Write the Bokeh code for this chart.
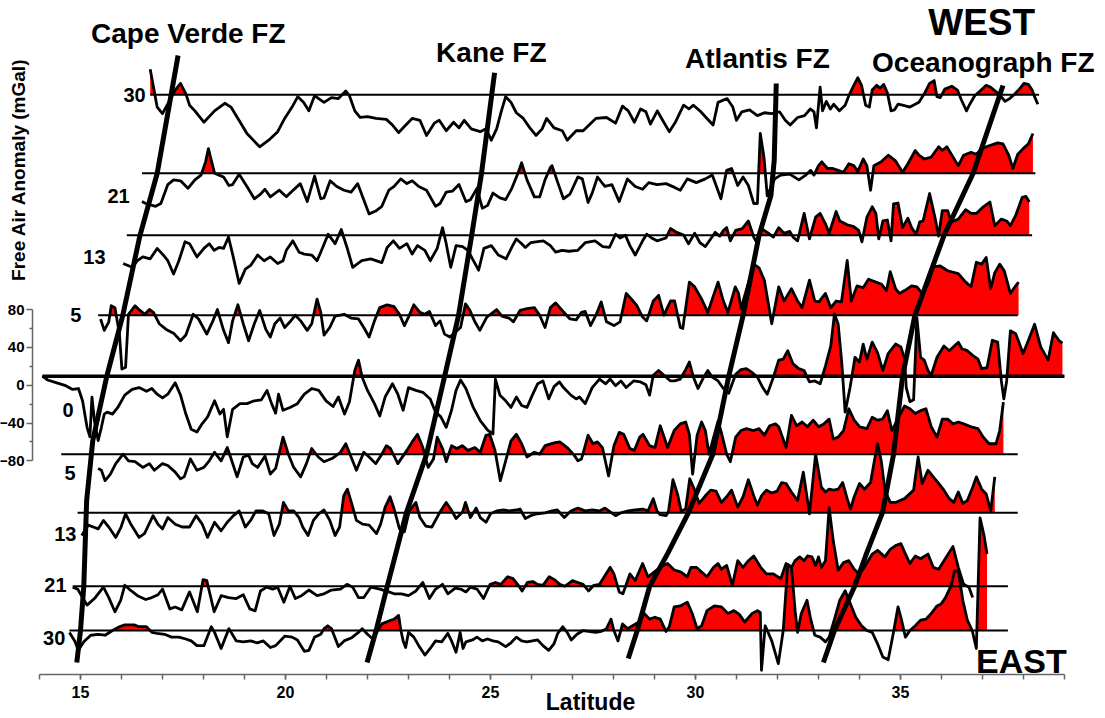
import numpy as np
from bokeh.plotting import figure
from bokeh.models import Label, FixedTicker, Range1d, LinearAxis
from bokeh.embed import file_html
from bokeh.resources import INLINE

# ---------------- DATA ----------------
# Profile labels (distance off-axis, km) top (WEST) to bottom (EAST)
profile_labels = ["30", "21", "13", "5", "0", "5", "13", "21", "30"]
# baseline offset of each profile on the stacked mGal scale
baseline_offset = [307.0, 224.1, 158.6, 74.0, 9.5, -72.9, -134.9, -212.5, -259.3]
baseline_start = [16.70, 16.50, 16.13, 15.43, 14.07, 14.53, 14.93, 14.81, 14.73]
baseline_end = [38.38, 38.29, 38.21, 37.86, 39.00, 37.86, 37.86, 37.62, 37.62]

# free-air anomaly (lat, mGal) for every profile
west30 = [(16.70,27),(16.87,-13),(17.00,-20),(17.31,5),(17.44,12),(17.57,1),(17.66,-11),(17.79,-17),(18.01,-29),(18.27,-17),(18.52,-9),(18.67,-13),(18.84,-25),(19.06,-41),(19.37,-55),(19.59,-48),(19.81,-39),(19.98,-25),(20.16,-13),(20.30,-2),(20.44,-8),(20.57,-17),(20.71,-1),(20.81,-4),(20.94,-8),(21.12,-3),(21.29,-4),(21.47,4),(21.56,-1),(21.69,-17),(21.82,-24),(22.00,-23),(22.21,-25),(22.46,-26),(22.61,-32),(22.76,-40),(22.91,-33),(23.09,-25),(23.28,-27),(23.44,-43),(23.63,-30),(23.75,-27),(23.92,-38),(24.10,-29),(24.23,-35),(24.36,-27),(24.53,-36),(24.75,-39),(24.89,-36),(25.02,-48),(25.15,-36),(25.26,-18),(25.37,-2),(25.50,-8),(25.63,-19),(25.80,-25),(25.96,-35),(26.11,-43),(26.26,-36),(26.37,-25),(26.55,-35),(26.75,-38),(26.87,-48),(27.09,-38),(27.26,-38),(27.57,-25),(27.83,-24),(28.05,-30),(28.22,-12),(28.36,-17),(28.51,-29),(28.66,-15),(28.79,-18),(28.90,-31),(29.07,-17),(29.16,-24),(29.36,-39),(29.51,-29),(29.71,-11),(29.84,-15),(29.95,-11),(30.13,-18),(30.28,-25),(30.43,-32),(30.55,-8),(30.77,-4),(30.91,-13),(31.00,-27),(31.13,-18),(31.32,-16),(31.51,-22),(31.68,-19),(31.86,-20),(32.05,-18),(32.19,-27),(32.31,-32),(32.49,-24),(32.66,-22),(32.80,-15),(32.89,-18),(32.95,-35),(33.04,8),(33.10,-17),(33.19,-7),(33.29,-15),(33.37,-10),(33.51,-17),(33.65,-11),(33.74,-1),(33.86,10),(33.96,18),(34.05,10),(34.15,-11),(34.24,-13),(34.31,5),(34.42,10),(34.50,7),(34.59,11),(34.68,2),(34.77,-17),(34.85,-16),(34.94,-10),(35.05,-11),(35.23,-13),(35.45,-8),(35.58,1),(35.71,12),(35.82,15),(35.89,-2),(35.97,-3),(36.08,6),(36.25,9),(36.39,5),(36.48,-5),(36.61,-17),(36.69,-10),(36.81,-1),(36.94,4),(37.09,10),(37.20,8),(37.31,4),(37.42,0),(37.55,-7),(37.66,-4),(37.77,0),(37.90,6),(38.01,12),(38.12,11),(38.21,5),(38.27,-2),(38.35,-10)]

west21 = [(16.50,-30),(16.59,-32),(16.83,-35),(16.96,-32),(17.13,-12),(17.27,-7),(17.44,-8),(17.62,-16),(17.79,-7),(17.94,-2),(18.05,12),(18.12,26),(18.20,12),(18.27,0),(18.38,-2),(18.49,-4),(18.62,-13),(18.71,-12),(18.87,-1),(19.06,-14),(19.24,-27),(19.37,-23),(19.50,-17),(19.63,-25),(19.85,-18),(20.02,-25),(20.16,-19),(20.36,-11),(20.53,-30),(20.71,-3),(20.86,-27),(20.94,-26),(21.09,-8),(21.25,-14),(21.43,-18),(21.60,-20),(21.76,-11),(21.88,-25),(22.04,-43),(22.20,-40),(22.35,-35),(22.52,-18),(22.65,-14),(22.81,-6),(22.96,-11),(23.09,-8),(23.25,-14),(23.44,-18),(23.66,-35),(23.77,-32),(23.92,-20),(24.07,-19),(24.23,-12),(24.40,-30),(24.51,-28),(24.67,-16),(24.80,-37),(24.93,-34),(25.06,-21),(25.23,-26),(25.37,-28),(25.52,-16),(25.67,0),(25.76,11),(25.89,-7),(26.07,-25),(26.20,-25),(26.33,-7),(26.46,6),(26.50,8),(26.65,-11),(26.78,-27),(26.94,-22),(27.13,-4),(27.24,-6),(27.38,-31),(27.48,-21),(27.61,-4),(27.79,-14),(27.96,-12),(28.14,-30),(28.34,-6),(28.53,-14),(28.71,-17),(28.86,-10),(29.06,-12),(29.28,-11),(29.49,-15),(29.63,-18),(29.80,-6),(30.02,-10),(30.24,-6),(30.41,-2),(30.62,-27),(30.76,3),(30.88,5),(31.03,-13),(31.16,-4),(31.29,-13),(31.42,-32),(31.51,-32),(31.58,42),(31.67,17),(31.75,-24),(31.93,-6),(32.08,-2),(32.30,-1),(32.52,-7),(32.69,-2),(32.81,3),(32.89,-2),(33.00,8),(33.08,12),(33.22,5),(33.35,5),(33.48,3),(33.61,1),(33.74,10),(33.86,8),(33.96,2),(34.09,15),(34.18,8),(34.27,-18),(34.35,8),(34.53,12),(34.70,19),(34.88,13),(35.05,1),(35.18,10),(35.36,24),(35.45,19),(35.58,15),(35.75,17),(35.93,28),(36.02,24),(36.13,28),(36.24,20),(36.41,8),(36.54,19),(36.72,22),(36.85,20),(36.98,26),(37.16,29),(37.37,32),(37.50,31),(37.64,19),(37.74,5),(37.86,20),(37.99,26),(38.12,31),(38.23,42)]

west13 = [(16.04,-30),(16.26,-34),(16.39,-27),(16.52,-23),(16.70,-25),(16.87,-14),(17.00,-20),(17.13,-27),(17.27,-41),(17.40,-27),(17.55,-7),(17.66,-9),(17.84,-23),(18.01,-14),(18.14,-9),(18.26,-16),(18.38,-13),(18.49,-14),(18.61,-2),(18.71,-20),(18.87,-51),(19.02,-36),(19.15,-32),(19.32,-21),(19.48,-27),(19.63,-23),(19.81,-30),(19.94,-27),(20.02,-16),(20.18,-6),(20.33,-18),(20.46,-20),(20.64,-21),(20.77,-27),(20.88,-16),(21.04,1),(21.21,-9),(21.36,6),(21.50,-13),(21.64,-34),(21.86,-27),(22.08,-25),(22.35,-29),(22.48,-13),(22.63,-6),(22.78,-14),(22.96,-9),(23.09,-20),(23.22,-11),(23.40,-16),(23.53,-27),(23.70,-14),(23.83,8),(23.92,-9),(24.03,-34),(24.16,-11),(24.32,-12),(24.45,-16),(24.56,-25),(24.71,-37),(24.84,-14),(25.02,-11),(25.19,-21),(25.38,-25),(25.54,-11),(25.63,-4),(25.76,-9),(25.85,-13),(25.98,-8),(26.11,-7),(26.29,-6),(26.46,-11),(26.59,-18),(26.74,-16),(26.91,-17),(27.13,-16),(27.31,-8),(27.55,-6),(27.74,-12),(27.90,-13),(28.05,1),(28.16,-3),(28.29,0),(28.40,-11),(28.53,-21),(28.71,-6),(28.81,1),(28.93,-3),(29.06,-6),(29.28,-3),(29.39,7),(29.54,3),(29.71,0),(29.83,-9),(29.98,2),(30.11,-8),(30.24,-12),(30.37,-4),(30.48,3),(30.59,-1),(30.68,5),(30.76,8),(30.85,-6),(30.98,5),(31.14,7),(31.29,15),(31.42,-2),(31.51,-9),(31.61,7),(31.75,3),(31.90,-2),(32.03,8),(32.16,2),(32.30,4),(32.38,-2),(32.49,-6),(32.65,23),(32.78,-4),(32.93,19),(33.04,23),(33.17,12),(33.26,2),(33.43,25),(33.52,15),(33.70,11),(33.86,9),(33.98,5),(34.06,-7),(34.18,19),(34.31,30),(34.40,23),(34.47,-4),(34.57,15),(34.68,16),(34.77,-6),(34.83,33),(34.94,34),(35.05,8),(35.18,18),(35.27,8),(35.38,1),(35.47,14),(35.55,15),(35.71,44),(35.84,19),(35.93,-1),(36.02,26),(36.15,26),(36.24,14),(36.41,17),(36.59,27),(36.72,23),(36.85,23),(37.02,30),(37.18,35),(37.30,10),(37.46,17),(37.59,15),(37.68,10),(37.81,21),(37.97,40),(38.06,41),(38.14,35)]

west5 = [(15.49,-4),(15.58,-16),(15.69,-7),(15.75,10),(15.84,8),(15.95,-20),(16.01,-57),(16.10,-55),(16.17,1),(16.33,10),(16.45,5),(16.57,1),(16.68,6),(16.78,3),(16.92,-9),(17.09,-15),(17.27,-19),(17.44,-27),(17.57,-21),(17.75,1),(17.88,-4),(18.08,-20),(18.23,-6),(18.34,6),(18.49,-16),(18.61,-29),(18.71,-6),(18.84,11),(18.97,-9),(19.10,-27),(19.24,-9),(19.37,5),(19.52,-15),(19.63,-23),(19.74,-9),(19.87,-3),(19.98,-13),(20.11,-7),(20.24,0),(20.37,-6),(20.53,-16),(20.64,-9),(20.77,17),(20.86,3),(20.94,-21),(21.08,-13),(21.21,-1),(21.43,1),(21.60,-3),(21.78,-4),(21.91,-13),(22.04,-23),(22.17,-6),(22.30,8),(22.48,11),(22.65,9),(22.78,1),(22.90,-11),(23.00,-2),(23.13,11),(23.28,3),(23.40,1),(23.51,4),(23.66,-11),(23.77,-6),(23.88,-20),(24.01,-23),(24.27,-13),(24.39,12),(24.50,5),(24.62,-7),(24.74,-16),(24.91,-2),(25.15,6),(25.28,-1),(25.45,-3),(25.56,-7),(25.72,5),(25.89,7),(26.07,8),(26.20,0),(26.33,-13),(26.46,8),(26.59,13),(26.75,5),(26.94,-4),(27.09,-5),(27.22,3),(27.31,4),(27.44,-11),(27.57,0),(27.70,14),(27.83,-7),(28.01,-11),(28.16,-7),(28.31,23),(28.44,17),(28.57,10),(28.71,-2),(28.81,-6),(28.97,15),(29.10,21),(29.23,0),(29.39,15),(29.49,15),(29.63,-13),(29.69,-14),(29.85,35),(29.98,30),(30.15,17),(30.30,3),(30.44,21),(30.55,35),(30.68,15),(30.79,3),(30.97,30),(31.05,23),(31.11,7),(31.42,54),(31.55,50),(31.68,37),(31.86,-9),(32.03,30),(32.16,15),(32.34,28),(32.49,15),(32.60,8),(32.78,37),(32.91,15),(33.01,14),(33.17,23),(33.30,8),(33.43,15),(33.56,14),(33.70,58),(33.80,15),(33.94,31),(34.09,29),(34.22,38),(34.40,35),(34.53,33),(34.66,26),(34.75,46),(34.88,28),(34.97,23),(35.10,26),(35.27,31),(35.40,30),(35.53,23),(35.67,33),(35.80,51),(35.97,52),(36.15,47),(36.41,44),(36.59,35),(36.72,30),(36.85,56),(36.98,54),(37.09,61),(37.20,28),(37.30,45),(37.42,54),(37.53,47),(37.68,23),(37.79,30),(37.88,35)]

axis0 = [(14.07,0),(14.20,-4),(14.42,-7),(14.64,-10),(14.81,-14),(14.95,-13),(15.05,-26),(15.16,-54),(15.23,-64),(15.28,-22),(15.34,-47),(15.43,-68),(15.51,-54),(15.58,-40),(15.65,-38),(15.78,-40),(15.91,-33),(16.08,-20),(16.26,-14),(16.43,-12),(16.61,-16),(16.74,-13),(16.87,-19),(17.00,-23),(17.13,-19),(17.31,-7),(17.44,-20),(17.57,-40),(17.70,-56),(17.84,-59),(17.97,-50),(18.10,-43),(18.27,-26),(18.40,-40),(18.49,-35),(18.58,-64),(18.71,-35),(18.89,-29),(19.06,-29),(19.24,-26),(19.41,-25),(19.55,-15),(19.66,-29),(19.76,-39),(19.83,-19),(19.94,-36),(20.11,-33),(20.29,-29),(20.46,-19),(20.64,-13),(20.81,-15),(20.99,-26),(21.16,-32),(21.29,-22),(21.44,-40),(21.56,-27),(21.69,6),(21.78,17),(21.87,-1),(22.00,-15),(22.17,-29),(22.30,-42),(22.43,-22),(22.61,-8),(22.74,-19),(22.87,-36),(23.00,-12),(23.18,-15),(23.35,-17),(23.53,-24),(23.66,-38),(23.79,-43),(23.92,-54),(24.05,-36),(24.16,-15),(24.27,-4),(24.40,-13),(24.58,-33),(24.75,-47),(24.93,-57),(25.06,-61),(25.12,-3),(25.23,-20),(25.37,-26),(25.50,-33),(25.63,-22),(25.76,-31),(25.89,-33),(26.02,-20),(26.15,-8),(26.28,-5),(26.42,-24),(26.55,-11),(26.68,-6),(26.78,-12),(26.96,-20),(27.09,-24),(27.17,-22),(27.31,-29),(27.48,-12),(27.66,-3),(27.81,-8),(27.92,-3),(28.05,-10),(28.18,-5),(28.31,-12),(28.49,-5),(28.66,-6),(28.79,-9),(28.88,-20),(28.97,1),(29.10,6),(29.23,1),(29.39,-5),(29.49,-5),(29.63,-3),(29.76,7),(29.85,15),(29.95,-1),(30.06,-13),(30.20,-1),(30.30,6),(30.41,-1),(30.55,-5),(30.68,-13),(30.81,-18),(30.98,2),(31.11,7),(31.24,8),(31.38,4),(31.51,-1),(31.64,-12),(31.75,-19),(31.90,-1),(32.03,17),(32.14,18),(32.25,27),(32.38,13),(32.52,8),(32.65,6),(32.78,-6),(32.91,-5),(33.04,-8),(33.17,11),(33.30,32),(33.39,66),(33.48,55),(33.57,13),(33.65,-38),(33.77,-12),(33.89,20),(34.00,15),(34.09,34),(34.18,18),(34.31,36),(34.44,25),(34.57,6),(34.70,24),(34.88,34),(35.01,31),(35.10,18),(35.14,-12),(35.23,-27),(35.32,-25),(35.40,62),(35.49,20),(35.58,17),(35.67,6),(35.75,1),(35.89,20),(36.06,32),(36.19,27),(36.41,36),(36.50,29),(36.63,27),(36.76,22),(36.89,18),(36.98,8),(37.11,9),(37.24,38),(37.37,36),(37.46,-5),(37.52,-24),(37.59,-5),(37.68,48),(37.81,45),(37.99,24),(38.12,38),(38.27,55),(38.42,31),(38.60,17),(38.73,46),(38.86,38),(38.95,35)]

east5 = [(15.43,-15),(15.51,-17),(15.60,-28),(15.73,-21),(15.86,-10),(16.04,0),(16.17,-7),(16.33,-8),(16.52,-14),(16.68,-10),(16.80,-17),(17.00,-10),(17.13,-12),(17.31,-19),(17.44,-26),(17.53,-24),(17.68,-5),(17.84,-17),(18.01,-14),(18.14,-7),(18.27,2),(18.43,-7),(18.58,7),(18.69,-7),(18.82,-24),(18.97,-3),(19.10,-1),(19.19,-10),(19.32,-14),(19.50,-2),(19.63,-21),(19.76,-15),(19.94,18),(20.07,0),(20.20,-14),(20.37,-24),(20.51,-10),(20.64,6),(20.80,-3),(20.94,-8),(21.16,-4),(21.34,2),(21.47,11),(21.60,-3),(21.73,-17),(21.91,2),(22.04,-3),(22.20,-10),(22.35,0),(22.46,9),(22.56,6),(22.74,-10),(22.96,4),(23.09,13),(23.22,21),(23.35,7),(23.48,-14),(23.61,-5),(23.70,18),(23.83,6),(23.92,-8),(24.05,9),(24.18,6),(24.31,9),(24.45,4),(24.62,7),(24.75,2),(24.89,20),(24.98,21),(25.11,4),(25.24,-28),(25.37,-7),(25.50,14),(25.63,21),(25.76,11),(25.89,-3),(26.07,2),(26.20,0),(26.33,9),(26.55,12),(26.69,13),(26.87,7),(27.04,-1),(27.13,-7),(27.22,-5),(27.38,20),(27.50,11),(27.61,13),(27.73,7),(27.88,-23),(28.01,9),(28.14,23),(28.25,21),(28.40,6),(28.51,4),(28.64,18),(28.72,21),(28.88,9),(29.01,7),(29.14,30),(29.32,7),(29.48,25),(29.63,32),(29.76,34),(29.85,21),(29.93,-21),(30.04,20),(30.15,34),(30.24,25),(30.33,0),(30.55,35),(30.63,23),(30.76,0),(30.85,-8),(30.98,18),(31.11,25),(31.24,27),(31.42,25),(31.55,27),(31.68,20),(31.81,30),(31.95,32),(32.03,29),(32.21,7),(32.34,41),(32.47,30),(32.60,34),(32.73,29),(32.87,36),(33.00,29),(33.13,32),(33.26,37),(33.36,16),(33.48,18),(33.61,25),(33.74,48),(33.87,36),(34.00,29),(34.18,27),(34.31,39),(34.44,36),(34.56,37),(34.68,46),(34.79,25),(35.10,51),(35.23,48),(35.36,43),(35.49,46),(35.62,48),(35.75,29),(35.89,18),(36.02,37),(36.15,37),(36.28,32),(36.41,34),(36.54,32),(36.72,29),(36.89,27),(37.02,18),(37.16,11),(37.33,11),(37.42,25),(37.51,55)]

east13 = [(15.03,-24),(15.19,-13),(15.31,-15),(15.43,-17),(15.56,-8),(15.69,-15),(15.86,-26),(15.99,-15),(16.10,-1),(16.24,-13),(16.43,-26),(16.56,-22),(16.77,-3),(16.89,-12),(17.00,-17),(17.13,-5),(17.31,-12),(17.48,-15),(17.66,-15),(17.82,-3),(17.97,-12),(18.10,-26),(18.27,-10),(18.43,-19),(18.58,-10),(18.73,-3),(18.87,2),(19.02,-15),(19.15,-8),(19.28,2),(19.45,2),(19.59,-1),(19.72,-24),(19.85,-12),(19.95,11),(20.07,2),(20.20,2),(20.33,-5),(20.42,-15),(20.55,-24),(20.68,-8),(20.81,-1),(20.94,3),(21.08,-8),(21.21,-24),(21.32,-15),(21.42,18),(21.51,25),(21.64,6),(21.73,-8),(21.88,-12),(22.04,-13),(22.22,-22),(22.32,-12),(22.43,6),(22.55,17),(22.65,4),(22.78,-17),(22.90,-20),(23.02,2),(23.18,11),(23.28,-5),(23.42,-14),(23.57,-15),(23.77,1),(23.92,11),(24.03,4),(24.16,-6),(24.32,1),(24.39,11),(24.51,-5),(24.65,5),(24.75,-5),(24.89,-10),(25.00,-1),(25.15,2),(25.32,3),(25.45,2),(25.63,3),(25.72,4),(25.85,-6),(25.98,-3),(26.14,-1),(26.33,0),(26.50,2),(26.63,3),(26.80,-5),(26.96,2),(27.13,5),(27.31,2),(27.48,3),(27.66,2),(27.79,5),(27.92,1),(28.05,-3),(28.18,0),(28.36,2),(28.53,3),(28.71,4),(28.84,2),(28.97,15),(29.06,2),(29.14,-2),(29.28,-3),(29.34,1),(29.45,35),(29.56,20),(29.65,2),(29.76,4),(29.86,36),(29.98,24),(30.09,10),(30.24,18),(30.37,24),(30.50,23),(30.63,11),(30.76,17),(30.88,24),(31.03,6),(31.16,17),(31.29,35),(31.42,18),(31.51,8),(31.61,18),(31.73,24),(31.86,21),(31.99,23),(32.10,32),(32.21,31),(32.34,22),(32.49,13),(32.63,43),(32.78,-1),(32.93,62),(33.07,27),(33.17,22),(33.26,25),(33.37,24),(33.48,25),(33.59,32),(33.70,15),(33.78,4),(33.87,17),(34.00,31),(34.12,25),(34.27,32),(34.35,52),(34.44,73),(34.53,55),(34.62,24),(34.75,11),(34.88,11),(35.10,15),(35.32,24),(35.43,59),(35.53,31),(35.67,45),(35.80,38),(35.93,31),(36.06,24),(36.19,15),(36.30,11),(36.41,22),(36.52,10),(36.63,13),(36.76,27),(36.85,38),(36.98,25),(37.09,20),(37.20,2),(37.30,38)]

east21 = [(14.81,-1),(14.93,-3),(15.16,-20),(15.34,-13),(15.56,-1),(15.69,-12),(15.84,-27),(15.98,-15),(16.08,1),(16.24,-5),(16.39,-10),(16.59,-14),(16.74,-12),(16.89,-9),(17.00,-3),(17.18,-24),(17.31,-22),(17.47,-25),(17.66,-6),(17.85,-27),(17.99,7),(18.08,6),(18.26,-27),(18.43,-10),(18.61,-12),(18.80,-13),(18.97,-9),(19.13,-24),(19.26,-26),(19.39,-5),(19.54,-1),(19.69,-3),(19.81,-1),(19.96,-17),(20.11,0),(20.24,-13),(20.39,-10),(20.57,-4),(20.77,-10),(20.94,-8),(21.12,-4),(21.34,-3),(21.50,2),(21.64,-1),(21.78,-12),(21.91,-12),(22.08,-1),(22.30,-3),(22.52,-6),(22.65,-8),(22.83,-8),(23.00,-10),(23.18,-5),(23.35,4),(23.51,-13),(23.66,-3),(23.83,2),(23.96,-8),(24.14,-2),(24.27,-3),(24.40,-6),(24.51,-1),(24.67,-3),(24.83,-13),(24.99,2),(25.12,4),(25.25,2),(25.42,10),(25.55,8),(25.68,1),(25.77,-5),(25.90,4),(26.03,5),(26.15,2),(26.28,1),(26.43,10),(26.56,7),(26.69,2),(26.82,0),(27.00,6),(27.13,4),(27.26,2),(27.39,-5),(27.52,1),(27.66,2),(27.79,11),(27.92,20),(28.01,13),(28.14,-6),(28.23,-8),(28.40,13),(28.53,6),(28.71,24),(28.84,10),(29.14,20),(29.32,24),(29.49,17),(29.65,15),(29.80,10),(29.89,20),(30.02,20),(30.15,15),(30.28,10),(30.44,20),(30.55,24),(30.63,18),(30.76,22),(30.90,1),(31.03,27),(31.16,20),(31.29,27),(31.42,32),(31.59,20),(31.73,13),(31.90,13),(32.08,8),(32.21,24),(32.34,20),(32.43,27),(32.54,31),(32.65,27),(32.73,32),(32.84,31),(32.93,22),(33.00,31),(33.07,20),(33.17,27),(33.26,83),(33.36,48),(33.48,17),(33.61,25),(33.74,27),(33.87,18),(34.00,13),(34.12,20),(34.31,34),(34.44,38),(34.62,31),(34.75,39),(34.88,43),(35.01,45),(35.10,36),(35.23,24),(35.36,32),(35.49,29),(35.67,34),(35.80,20),(35.93,18),(36.06,27),(36.28,42),(36.41,20),(36.54,2),(36.67,-1),(36.76,-12)]

east30 = [(14.73,-2),(14.86,-11),(14.95,-21),(15.08,-12),(15.25,-5),(15.43,-4),(15.60,-5),(15.78,0),(15.95,4),(16.08,6),(16.31,6),(16.43,4),(16.61,4),(16.74,-2),(16.87,-3),(17.05,-4),(17.22,-7),(17.40,-7),(17.57,-9),(17.70,-11),(17.84,-16),(18.01,-16),(18.19,4),(18.27,-2),(18.43,-19),(18.62,2),(18.80,-11),(18.97,-12),(19.15,-11),(19.31,-13),(19.46,-11),(19.63,-18),(19.76,-16),(19.98,-6),(20.16,-7),(20.29,-10),(20.46,-22),(20.57,-21),(20.71,-7),(20.86,-4),(20.94,2),(21.03,5),(21.12,2),(21.29,-17),(21.43,-11),(21.60,-8),(21.78,-2),(21.87,2),(22.00,-4),(22.13,-9),(22.35,7),(22.52,10),(22.65,12),(22.76,16),(22.81,1),(22.87,-11),(22.93,-18),(23.00,-2),(23.13,-7),(23.25,-16),(23.40,-26),(23.53,-19),(23.66,-11),(23.81,-12),(23.96,-3),(24.05,-11),(24.16,-23),(24.26,-2),(24.33,-19),(24.40,-12),(24.56,-10),(24.67,-7),(24.80,-11),(24.93,-9),(25.06,-11),(25.19,-12),(25.37,-17),(25.50,-13),(25.63,-7),(25.76,-11),(25.89,-12),(26.02,-11),(26.15,-10),(26.28,-16),(26.42,-21),(26.55,-14),(26.64,-3),(26.76,4),(26.87,-2),(26.97,-10),(27.11,-4),(27.26,0),(27.39,-1),(27.57,-2),(27.70,-1),(27.83,2),(27.94,12),(28.01,0),(28.11,-11),(28.22,7),(28.34,2),(28.62,9),(28.75,18),(28.88,12),(29.01,14),(29.14,12),(29.28,-1),(29.36,4),(29.48,25),(29.63,26),(29.80,30),(29.92,18),(30.04,2),(30.15,5),(30.28,21),(30.46,26),(30.63,25),(30.79,18),(30.94,21),(31.07,17),(31.20,9),(31.38,18),(31.51,21),(31.58,19),(31.61,-42),(31.70,5),(31.86,-11),(32.02,-35),(32.14,0),(32.25,70),(32.34,67),(32.43,21),(32.49,-2),(32.58,18),(32.72,32),(32.80,14),(32.91,-5),(33.04,-7),(33.17,-12),(33.26,-7),(33.39,12),(33.52,32),(33.65,42),(33.78,28),(33.91,14),(34.05,5),(34.18,0),(34.31,-2),(34.44,-14),(34.57,-28),(34.70,-31),(34.82,-4),(34.94,25),(35.01,14),(35.12,-7),(35.23,0),(35.36,5),(35.49,11),(35.62,12),(35.75,18),(35.89,26),(35.99,28),(36.10,35),(36.24,48),(36.32,63),(36.41,63),(36.52,32),(36.63,11),(36.75,0),(36.85,-19),(36.94,119),(37.04,100),(37.11,81)]

profiles = [west30, west21, west13, west5, axis0, east5, east13, east21, east30]

# fracture zone traces (lat, stacked mGal position)
cape_verde_fz = [(17.38,348.5),(16.87,223.8),(16.45,158.2),(16.03,73.6),(15.64,9.2),(15.30,-58.4),(15.15,-121.9),(15.08,-212.8),(15.00,-259.3),(14.91,-293.1)]
kane_fz = [(25.10,330.3),(24.78,223.6),(24.54,158.2),(24.22,73.6),(23.88,9.2),(23.44,-73.3),(22.95,-134.6),(22.48,-212.8),(22.21,-259.3),(21.99,-293.1)]
atlantis_fz = [(31.97,318.9),(31.92,237.5),(31.84,200.5),(31.55,158.2),(31.16,73.6),(30.81,9.2),(30.42,-73.3),(29.83,-134.6),(29.32,-178.0),(28.88,-212.8),(28.58,-259.3),(28.36,-288.9)]
oceanographer_fz = [(37.50,316.8),(36.77,223.8),(36.06,158.2),(35.35,73.6),(35.05,9.2),(34.83,-73.3),(34.56,-134.6),(34.17,-178.0),(33.88,-212.8),(33.39,-259.3),(33.12,-293.1)]
fz_traces = [cape_verde_fz, kane_fz, atlantis_fz, oceanographer_fz]
fz_names = ["Cape Verde FZ", "Kane FZ", "Atlantis FZ", "Oceanograph FZ"]

# ---------------- LAYOUT / STYLE ----------------
FONT = "Liberation Sans"
fz_label_pos = [(17.63, 371.7), (25.02, 351.6), (31.51, 345.3), (37.02, 341.1)]
profile_label_pos = [(16.59, 307), (16.20, 200.5), (15.61, 135.0), (15.02, 74.6), (14.83, -26.7),
                     (14.88, -93.3), (14.90, -157.8), (14.66, -211.7), (14.63, -266.7)]

# the frame fills the whole canvas; axes sit at fixed data locations inside it
p = figure(width=1102, height=716, x_range=Range1d(13.049, 39.927), y_range=Range1d(-350.2, 406.66),
           x_axis_type=None, y_axis_type=None,
           output_backend="svg", toolbar_location=None,
           min_border_left=0, min_border_right=0, min_border_top=0, min_border_bottom=0)
p.grid.visible = False
p.outline_line_color = None
p.background_fill_color = "white"
p.border_fill_color = "white"


def positive_part(lat, val):
    xs, ys = [lat[0]], [val[0]]
    for i in range(1, len(lat)):
        v0, v1 = val[i - 1], val[i]
        if (v0 > 0 > v1) or (v0 < 0 < v1):
            t = v0 / (v0 - v1)
            xs.append(lat[i - 1] + t * (lat[i] - lat[i - 1]))
            ys.append(0.0)
        xs.append(lat[i])
        ys.append(val[i])
    return np.array(xs), np.clip(np.array(ys, dtype=float), 0, None)


# red fills (positive anomaly)
for prof, base in zip(profiles, baseline_offset):
    lat = [a for a, b in prof]
    val = [b for a, b in prof]
    xs, ys = positive_part(lat, val)
    p.varea(x=xs, y1=np.full(len(xs), base), y2=base + ys, fill_color="#ff0000")

# baselines
for i, base in enumerate(baseline_offset):
    w = 3.5 if i == 4 else 2
    p.line([baseline_start[i], baseline_end[i]], [base, base], line_color="black", line_width=w)

# profiles
for prof, base in zip(profiles, baseline_offset):
    lat = np.array([a for a, b in prof])
    val = np.array([b for a, b in prof], dtype=float)
    p.line(lat, base + val, line_color="black", line_width=2.8, line_join="round")

# fracture zones
for tr in fz_traces:
    p.line([a for a, b in tr], [b for a, b in tr], line_color="black", line_width=5, line_join="round")

# axes
xaxis = LinearAxis(fixed_location=-306.3, bounds=(14, 39),
                   ticker=FixedTicker(ticks=[15, 20, 25, 30, 35], minor_ticks=list(range(14, 40))))
yaxis = LinearAxis(fixed_location=13.83, bounds=(-80, 80),
                   ticker=FixedTicker(ticks=[-80, -40, 0, 40, 80], minor_ticks=[-60, -20, 20, 60]))
for ax in (xaxis, yaxis):
    ax.axis_line_color = "#666666"
    ax.axis_line_width = 1.5
    ax.major_tick_line_color = "#666666"
    ax.minor_tick_line_color = "#666666"
    ax.major_tick_line_width = 1.5
    ax.minor_tick_line_width = 1.5
    ax.major_tick_in = 0
    ax.minor_tick_in = 0
    ax.major_label_text_font = FONT
    ax.major_label_text_font_style = "bold"
    ax.major_label_text_color = "black"
xaxis.major_tick_out = 5
xaxis.minor_tick_out = 5
xaxis.major_label_standoff = 6
xaxis.major_label_text_font_size = "16px"
yaxis.major_tick_out = 6
yaxis.minor_tick_out = 3
yaxis.major_label_standoff = 2
yaxis.major_label_text_font_size = "15px"
p.add_layout(xaxis, "below")
p.add_layout(yaxis, "left")

# texts
for (x, y), t in zip(fz_label_pos, fz_names):
    p.add_layout(Label(x=x, y=y, text=t, text_font=FONT, text_font_style="bold", text_font_size="28px",
                       text_align="center", text_baseline="middle", text_color="black"))
for (x, y), t in zip(profile_label_pos, profile_labels):
    p.add_layout(Label(x=x, y=y, text=t, text_font=FONT, text_font_style="bold", text_font_size="20px",
                       text_align="right", text_baseline="middle", text_color="black"))
p.add_layout(Label(x=36.98, y=383.4, text="WEST", text_font=FONT, text_font_style="bold",
                   text_font_size="37px", text_align="center", text_baseline="middle", text_color="black"))
p.add_layout(Label(x=37.95, y=-291.1, text="EAST", text_font=FONT, text_font_style="bold",
                   text_font_size="34px", text_align="center", text_baseline="middle", text_color="black"))
p.add_layout(Label(x=27.44, y=-334.5, text="Latitude", text_font=FONT, text_font_style="bold",
                   text_font_size="23px", text_align="center", text_baseline="middle", text_color="black"))
p.add_layout(Label(x=13.49, y=228, text="Free Air Anomaly (mGal)", text_font=FONT, text_font_style="bold",
                   text_font_size="19px", text_align="center", text_baseline="middle", angle=np.pi / 2,
                   text_color="black"))

open("out.html", "w").write(file_html(p, INLINE))
